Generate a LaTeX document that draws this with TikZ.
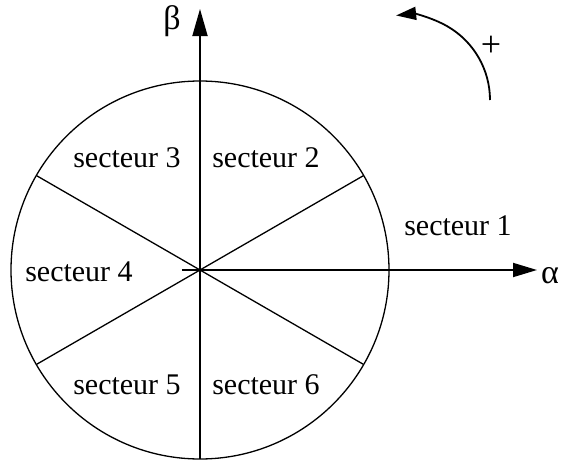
\documentclass[tikz,border=0pt]{standalone}
\usepackage{fontspec}
\setmainfont{Liberation Serif}
\usetikzlibrary{arrows.meta}
\tikzset{lbl/.style={font=\fontsize{30}{36}\selectfont, inner sep=0pt},
	axis/.style={line width=1.8pt}}
\begin{document}
\begin{tikzpicture}[x=1pt,y=1pt,line width=1.3pt]
		\useasboundingbox (-200,-189) rectangle (363,270);
		
		\coordinate (O) at (0,0);
		\draw (O) circle (189);
		\foreach \a in {30,150,210,330}
			\draw (O) -- (\a:189) coordinate (r\a);
		
		\node[lbl] (s1) at (258,44) {secteur 1};
		\node[lbl] (s2) at (66,112) {secteur 2};
		\node[lbl] (s3) at (-73,112) {secteur 3};
		\node[lbl] (s4) at (-121,-2) {secteur 4};
		\node[lbl] (s5) at (-73,-115) {secteur 5};
		\node[lbl] (s6) at (66,-115) {secteur 6};
		
		\node[lbl,font=\fontsize{34}{40}\selectfont] (al) at (350,-6) {α};
		\node[lbl,font=\fontsize{34}{40}\selectfont] (be) at (-28,249) {β};
		\node[lbl,font=\fontsize{36}{40}\selectfont] (pl) at (291,224) {+};
		
		\coordinate (ax0) at (-18,0);
		\coordinate (ax1) at (337,0);
		\coordinate (by0) at (0,-189);
		\coordinate (by1) at (0,261);
		\draw[axis,-{Triangle[length=24pt,width=14pt]}] (ax0) -- (ax1);
		\draw[axis,-{Triangle[length=27pt,width=15pt]}] (by0) -- (by1);
		
		\coordinate (rot) at (290,170);
		\draw[axis,-{Triangle[length=20pt,width=13pt]}] (rot) arc[start angle=0,end angle=96,radius=85];
	\end{tikzpicture}
\end{document}
